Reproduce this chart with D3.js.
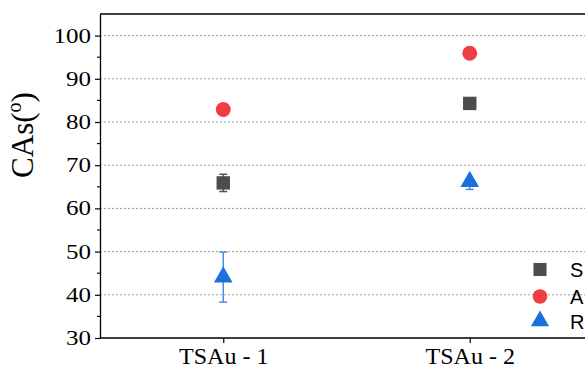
<!DOCTYPE html>
<html>
<head>
<meta charset="utf-8">
<script src="https://cdn.jsdelivr.net/npm/d3@7"></script>
<style>
  html, body { margin: 0; padding: 0; background: #fff; }
  svg { display: block; }
</style>
</head>
<body>
<svg id="chart" width="585" height="369"></svg>
<script>
// Contact angle measurements per sample
const categories = ["TSAu - 1", "TSAu - 2"];
const legendLabels = ["S", "A", "R"];
const staticVals = [65.9, 84.3];
const staticErrLow = [2.0, 0];
const staticErrHigh = [2.0, 0];
const advancingVals = [82.9, 95.9];
const advancingErrLow = [0, 0];
const advancingErrHigh = [0, 0];
const recedingVals = [44.1, 66.2];
const recedingErrLow = [5.8, 1.8];
const recedingErrHigh = [5.8, 0.6];
const yTicks = [30, 40, 50, 60, 70, 80, 90, 100];
const yMinorTicks = [35, 45, 55, 65, 75, 85, 95];

const serif = "'Liberation Serif', 'Times New Roman', serif";
const svg = d3.select("#chart");
const margin = { left: 100, top: 14, right: 593, bottom: 338 };

const x = d3.scalePoint().domain(categories).range([margin.left, margin.right]).padding(0.5);
const y = d3.scaleLinear().domain([30, 105]).range([margin.bottom, margin.top]);

// Dotted horizontal gridlines
svg.append("g").selectAll("line")
  .data(yTicks.filter(t => t > 30))
  .join("line")
  .attr("x1", margin.left).attr("x2", margin.right)
  .attr("y1", d => y(d)).attr("y2", d => y(d))
  .attr("stroke", "#9a9a9a").attr("stroke-width", 1)
  .attr("stroke-dasharray", "2,2");

// Frame: top border
svg.append("line")
  .attr("x1", margin.left).attr("x2", margin.right)
  .attr("y1", margin.top).attr("y2", margin.top)
  .attr("stroke", "#000").attr("stroke-width", 1.3);

// Y axis
const yAxis = svg.append("g")
  .attr("transform", `translate(${margin.left},0)`)
  .call(d3.axisLeft(y).tickValues(yTicks).tickSize(5).tickPadding(4).tickSizeOuter(0));
yAxis.select(".domain").attr("stroke", "#000").attr("stroke-width", 1.3);
yAxis.selectAll(".tick line").attr("stroke", "#000").attr("stroke-width", 1.2);
yAxis.selectAll("text")
  .attr("font-family", serif)
  .attr("font-size", 25).attr("fill", "#000")
  .attr("transform", "scale(1,0.82)");

// Minor ticks on the y axis
svg.append("g").selectAll("line")
  .data(yMinorTicks)
  .join("line")
  .attr("x1", margin.left - 3).attr("x2", margin.left)
  .attr("y1", d => y(d)).attr("y2", d => y(d))
  .attr("stroke", "#000").attr("stroke-width", 1.1);

// X axis
const xAxis = svg.append("g")
  .attr("transform", `translate(0,${margin.bottom})`)
  .call(d3.axisBottom(x).tickSize(5).tickPadding(3.5).tickSizeOuter(0));
xAxis.select(".domain").attr("stroke", "#000").attr("stroke-width", 1.3)
  .attr("d", `M${margin.left},0H${margin.right}`);
xAxis.selectAll(".tick line").attr("stroke", "#000").attr("stroke-width", 1.2);
xAxis.selectAll("text")
  .attr("font-family", serif)
  .attr("font-size", 24).attr("fill", "#000");

// Y axis title
const yTitle = svg.append("text")
  .attr("transform", `translate(33,135) rotate(-90)`)
  .attr("text-anchor", "middle")
  .attr("font-family", serif)
  .attr("font-size", 31).attr("fill", "#000");
yTitle.append("tspan").text("CAs(");
yTitle.append("tspan").attr("font-size", 20).attr("dy", -12).text("o");
yTitle.append("tspan").attr("dy", 12).text(")");

// Series definitions
const series = [
  { vals: staticVals, lo: staticErrLow, hi: staticErrHigh, color: "#4d4d4d", errColor: "#555555", shape: d3.symbolSquare, size: 180 },
  { vals: advancingVals, lo: advancingErrLow, hi: advancingErrHigh, color: "#ef3d42", errColor: "#ef3d42", shape: d3.symbolCircle, size: 175 },
  { vals: recedingVals, lo: recedingErrLow, hi: recedingErrHigh, color: "#1c6fdc", errColor: "#4a8de4", shape: d3.symbolTriangle, size: 150 }
];

series.forEach(s => {
  const g = svg.append("g");
  const pts = categories.map((c, i) => ({ c, v: s.vals[i], lo: s.lo[i], hi: s.hi[i] }));
  // Error bars
  pts.filter(p => p.lo > 0 || p.hi > 0).forEach(p => {
    const cx = x(p.c);
    g.append("line").attr("x1", cx).attr("x2", cx)
      .attr("y1", y(p.v - p.lo)).attr("y2", y(p.v + p.hi))
      .attr("stroke", s.errColor).attr("stroke-width", 1.5);
    [p.v - p.lo, p.v + p.hi].forEach(v => {
      g.append("line").attr("x1", cx - 4).attr("x2", cx + 4)
        .attr("y1", y(v)).attr("y2", y(v))
        .attr("stroke", s.errColor).attr("stroke-width", 1.5);
    });
  });
  // Markers
  g.selectAll("path.mark").data(pts).join("path")
    .attr("class", "mark")
    .attr("d", d3.symbol().type(s.shape).size(s.size))
    .attr("transform", p => `translate(${x(p.c)},${y(p.v)})`)
    .attr("fill", s.color);
});

// Legend
const legendRows = [269.5, 296.5, 321];
const legend = svg.append("g");
series.forEach((s, i) => {
  const ly = legendRows[i];
  legend.append("path")
    .attr("d", d3.symbol().type(s.shape).size(s.size * 0.95))
    .attr("transform", `translate(540,${ly})`)
    .attr("fill", s.color);
  legend.append("text")
    .attr("x", 570).attr("y", ly + 7.5)
    .attr("font-family", "'Liberation Sans', Arial, sans-serif")
    .attr("font-size", 20).attr("fill", "#000")
    .text(legendLabels[i]);
});
</script>
</body>
</html>
